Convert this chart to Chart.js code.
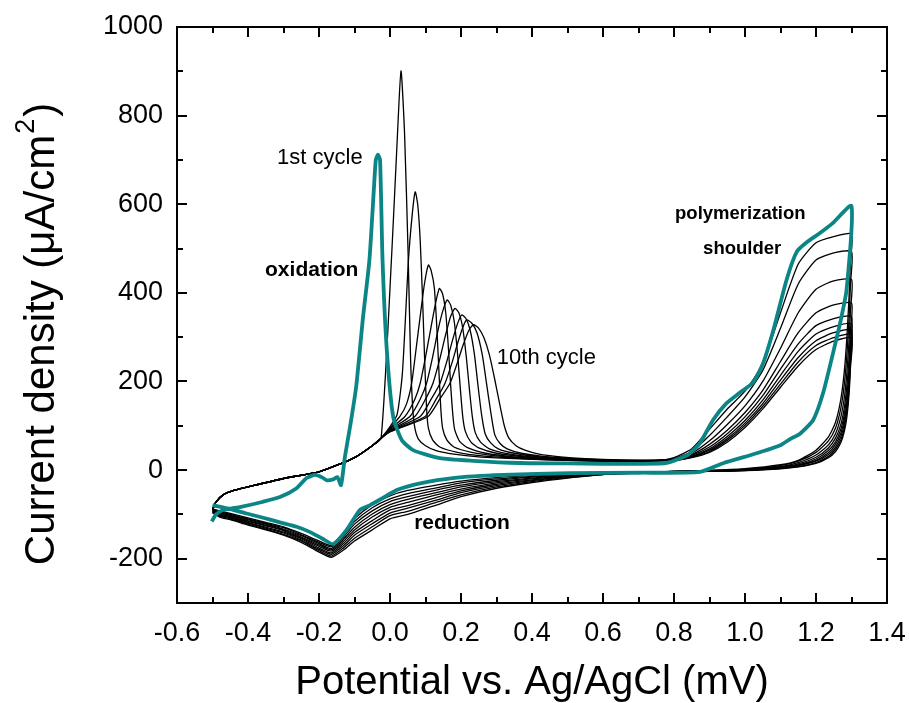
<!DOCTYPE html>
<html>
<head>
<meta charset="utf-8">
<title>Cyclic voltammetry, 10 cycles</title>
<script src="https://cdn.jsdelivr.net/npm/chart.js@4.4.1/dist/chart.umd.min.js"></script>
<style>
  html, body { margin: 0; padding: 0; background: #fff; }
  #wrap { width: 909px; height: 703px; }
</style>
</head>
<body>
<div id="wrap"><canvas id="cv" width="909" height="703"></canvas></div>
<script>
const FONT = "'Liberation Sans', Arial, Helvetica, sans-serif";
const TEAL = '#0b8585';

/* axis ticks */
const xTicks = [-0.6, -0.4, -0.2, 0.0, 0.2, 0.4, 0.6, 0.8, 1.0, 1.2, 1.4];
const yTicks = [-200, 0, 200, 400, 600, 800, 1000];

/* 1st cycle (teal) : anodic sweep then cathodic sweep */
const c1FwdE = [-0.502, -0.49, -0.47, -0.42, -0.36, -0.31, -0.263, -0.235, -0.211, -0.19, -0.178, -0.16, -0.148, -0.138,
  -0.127, -0.11, -0.095, -0.076, -0.058, -0.045, -0.04, -0.034, -0.028, -0.021, -0.009, 0.009, 0.033, 0.065, 0.14, 0.234,
  0.366, 0.5, 0.6, 0.7, 0.78, 0.84, 0.873, 0.91, 0.948, 0.986, 1.023, 1.051, 1.08, 1.117, 1.146, 1.177, 1.211, 1.248, 1.3];
const c1FwdI = [-116, -100, -90, -83, -72, -61, -41, -18, -11, -17, -23, -21, -16, -34,
  30, 110, 190, 345, 474, 640, 700, 712, 700, 474, 271, 120, 68, 45, 27, 21,
  16, 15, 14, 14, 16, 35, 61, 113, 151, 175, 198, 241, 316, 429, 493, 516, 535, 558, 596];
const c1RevE = [1.286, 1.268, 1.248, 1.22, 1.192, 1.155, 1.127, 1.1, 1.033, 0.94, 0.873, 0.7, 0.507, 0.318, 0.177,
  0.085, 0.019, -0.02, -0.056, -0.085, -0.122, -0.16, -0.19, -0.225, -0.263, -0.31, -0.36, -0.404, -0.45, -0.5];
const c1RevI = [406, 332, 264, 174, 113, 82, 70, 56, 38, 16, -4, -6, -7, -11, -18,
  -30, -45, -63, -79, -90, -135, -167, -155, -140, -128, -118, -107, -98, -88, -79];

/* cycles 2-10 (black) : shared potential grids */
const startE = [-0.5, -0.49, -0.47, -0.44, -0.4, -0.3, -0.2, -0.14, -0.1, -0.05, -0.025];
const startI = [-90, -72, -56, -46, -38, -19, -4, 14, 28, 55, 72];
const rightE = [0.8, 0.85, 0.9, 0.95, 1.0, 1.05, 1.1, 1.15, 1.2, 1.25, 1.3];
const revE = [1.297, 1.293, 1.287, 1.28, 1.27, 1.255, 1.235, 1.2, 1.15, 1.1, 1.0, 0.9, 0.8,
  0.7, 0.6, 0.5, 0.4, 0.3, 0.2, 0.13, 0.05, 0.0, -0.05, -0.1, -0.13, -0.165, -0.2, -0.25, -0.3, -0.35, -0.4, -0.45, -0.48, -0.5];

/* oxidation peak region, per cycle */
const c2MidE = [0.005, 0.02, 0.031, 0.041, 0.051, 0.058, 0.064, 0.07, 0.08, 0.1, 0.13, 0.18, 0.25, 0.35, 0.45, 0.55, 0.65, 0.75];
const c2MidI = [490, 740, 901, 760, 490, 250, 140, 95, 70, 55, 44, 36, 30, 26, 23, 21, 20, 21];
const c3MidE = [0.0, 0.02, 0.035, 0.052, 0.063, 0.071, 0.078, 0.085, 0.092, 0.098, 0.103, 0.108, 0.12, 0.14, 0.19, 0.26, 0.35, 0.45, 0.55, 0.65, 0.75];
const c3MidI = [98, 125, 220, 474, 580, 628, 600, 520, 380, 240, 140, 95, 68, 52, 40, 32, 27, 23, 21, 20, 21];
const c4MidE = [0.0, 0.028, 0.047, 0.061, 0.073, 0.085, 0.097, 0.108, 0.116, 0.125, 0.132, 0.138, 0.143, 0.148, 0.16, 0.18, 0.23, 0.3, 0.4, 0.5, 0.6, 0.7];
const c4MidI = [95, 121, 150, 196, 270, 347, 420, 463, 450, 410, 320, 220, 140, 95, 68, 52, 40, 32, 26, 23, 21, 21];
const c5MidE = [0.0, 0.042, 0.07, 0.085, 0.1, 0.115, 0.128, 0.139, 0.148, 0.157, 0.165, 0.171, 0.177, 0.182, 0.196, 0.22, 0.27, 0.35, 0.45, 0.6, 0.7];
const c5MidI = [93, 121, 160, 196, 255, 320, 375, 410, 398, 355, 270, 190, 125, 92, 65, 50, 38, 30, 25, 21, 21];
const c6MidE = [0.0, 0.056, 0.085, 0.103, 0.12, 0.135, 0.149, 0.161, 0.171, 0.181, 0.19, 0.198, 0.205, 0.212, 0.228, 0.25, 0.3, 0.38, 0.5, 0.6, 0.7];
const c6MidI = [91, 121, 160, 196, 255, 315, 360, 384, 372, 335, 265, 185, 120, 88, 63, 50, 38, 30, 24, 22, 21];
const c7MidE = [0.0, 0.07, 0.1, 0.121, 0.14, 0.155, 0.17, 0.183, 0.194, 0.205, 0.215, 0.224, 0.232, 0.24, 0.255, 0.28, 0.33, 0.4, 0.5, 0.6, 0.7];
const c7MidI = [89, 121, 160, 196, 250, 300, 345, 365, 355, 320, 255, 180, 120, 85, 63, 48, 37, 30, 25, 22, 21];
const c8MidE = [0.0, 0.085, 0.116, 0.141, 0.16, 0.175, 0.19, 0.202, 0.214, 0.226, 0.238, 0.248, 0.258, 0.268, 0.283, 0.305, 0.35, 0.42, 0.5, 0.6, 0.7];
const c8MidI = [88, 121, 160, 196, 245, 290, 330, 350, 342, 315, 260, 190, 125, 82, 62, 48, 38, 30, 26, 23, 21];
const c9MidE = [0.0, 0.099, 0.13, 0.155, 0.175, 0.19, 0.205, 0.216, 0.23, 0.245, 0.26, 0.272, 0.284, 0.295, 0.31, 0.33, 0.37, 0.43, 0.5, 0.6, 0.7];
const c9MidI = [87, 121, 160, 196, 243, 285, 322, 339, 332, 310, 260, 195, 130, 80, 60, 48, 38, 31, 27, 23, 22];
const c10MidE = [0.0, 0.107, 0.14, 0.169, 0.19, 0.205, 0.222, 0.235, 0.25, 0.265, 0.28, 0.295, 0.31, 0.322, 0.335, 0.355, 0.38, 0.42, 0.48, 0.55, 0.65, 0.75];
const c10MidI = [86, 121, 160, 196, 243, 280, 315, 328, 320, 298, 260, 205, 145, 100, 72, 55, 45, 36, 30, 26, 23, 22];

/* polymerization region (on rightE), per cycle */
const c2RightI = [28, 48, 92, 138, 178, 240, 355, 465, 513, 527, 533];
const c3RightI = [26, 42, 78, 120, 165, 225, 320, 420, 474, 490, 493];
const c4RightI = [25, 38, 66, 103, 145, 200, 275, 355, 408, 427, 430];
const c5RightI = [24, 35, 58, 90, 130, 180, 245, 310, 355, 373, 377];
const c6RightI = [23, 33, 52, 82, 120, 168, 228, 285, 326, 342, 346];
const c7RightI = [23, 31, 48, 76, 112, 158, 214, 268, 307, 324, 330];
const c8RightI = [22, 30, 45, 71, 106, 150, 203, 254, 292, 310, 316];
const c9RightI = [22, 29, 42, 67, 101, 144, 194, 244, 281, 299, 306];
const c10RightI = [22, 28, 40, 63, 96, 138, 187, 235, 272, 291, 298];

/* cathodic sweep (on revE), per cycle */
const c2RevI = [470, 390, 300, 225, 160, 108, 75, 45, 22, 12, 3, -1, -3,
  -5, -6, -8, -12, -17, -25, -34, -46, -58, -78, -110, -140, -170, -160, -143, -128, -118, -108, -98, -92, -88];
const c3RevI = [420, 340, 260, 195, 140, 95, 66, 40, 20, 10, 2, -1, -3,
  -5, -7, -9, -14, -20, -29, -40, -53, -65, -85, -116, -145, -173, -163, -146, -130, -120, -110, -100, -94, -89];
const c4RevI = [360, 290, 220, 165, 120, 82, 57, 34, 17, 8, 1, -2, -3,
  -6, -7, -11, -16, -23, -34, -45, -60, -71, -92, -122, -150, -177, -166, -148, -133, -122, -112, -102, -96, -90];
const c5RevI = [315, 250, 190, 142, 103, 72, 50, 29, 14, 7, 1, -2, -3,
  -6, -8, -12, -18, -26, -38, -51, -66, -78, -99, -129, -155, -180, -169, -151, -135, -124, -114, -103, -97, -91];
const c6RevI = [285, 225, 170, 127, 92, 64, 44, 25, 12, 6, 0, -2, -3,
  -6, -8, -13, -20, -29, -43, -56, -73, -84, -106, -135, -160, -183, -172, -153, -137, -126, -116, -105, -99, -92];
const c7RevI = [268, 210, 155, 115, 83, 58, 39, 22, 11, 5, 0, -2, -4,
  -6, -9, -14, -22, -32, -47, -62, -80, -90, -114, -141, -165, -187, -176, -155, -140, -129, -118, -107, -101, -93];
const c8RevI = [255, 197, 143, 105, 75, 52, 35, 20, 10, 4, 0, -3, -4,
  -7, -9, -15, -24, -35, -51, -68, -86, -97, -121, -147, -170, -190, -179, -158, -142, -131, -120, -108, -102, -94];
const c9RevI = [243, 183, 131, 96, 68, 47, 31, 17, 8, 4, -1, -3, -4,
  -7, -10, -17, -26, -38, -56, -73, -93, -103, -128, -154, -175, -194, -182, -160, -145, -133, -122, -110, -104, -95];
const c10RevI = [230, 170, 120, 88, 62, 42, 28, 15, 7, 3, -1, -3, -4,
  -7, -10, -18, -28, -41, -60, -79, -100, -110, -135, -160, -180, -197, -185, -163, -147, -135, -124, -112, -106, -96];

/* text labels, placed in data coordinates (left edge, vertical middle) */
const notes = [
  { text: '1st cycle', E: -0.318, I: 705, bold: false, size: 22 },
  { text: 'oxidation', E: -0.352, I: 452, bold: true, size: 21 },
  { text: '10th cycle', E: 0.301, I: 254, bold: false, size: 22 },
  { text: 'polymerization', E: 0.803, I: 578, bold: true, size: 18.5 },
  { text: 'shoulder', E: 0.882, I: 499, bold: true, size: 18.5 },
  { text: 'reduction', E: 0.068, I: -120, bold: true, size: 21 }
];

function pts(E, I) { return E.map((e, i) => ({ x: e, y: I[i] })); }
function blackCycle(midE, midI, rightI, revI) {
  return pts([...startE, ...midE, ...rightE, ...revE], [...startI, ...midI, ...rightI, ...revI]);
}

const cycles = [
  blackCycle(c2MidE, c2MidI, c2RightI, c2RevI),
  blackCycle(c3MidE, c3MidI, c3RightI, c3RevI),
  blackCycle(c4MidE, c4MidI, c4RightI, c4RevI),
  blackCycle(c5MidE, c5MidI, c5RightI, c5RevI),
  blackCycle(c6MidE, c6MidI, c6RightI, c6RevI),
  blackCycle(c7MidE, c7MidI, c7RightI, c7RevI),
  blackCycle(c8MidE, c8MidI, c8RightI, c8RevI),
  blackCycle(c9MidE, c9MidI, c9RightI, c9RevI),
  blackCycle(c10MidE, c10MidI, c10RightI, c10RevI)
];

const datasets = [{
  label: 'cycle 1',
  data: pts([...c1FwdE, ...c1RevE], [...c1FwdI, ...c1RevI]),
  borderColor: TEAL, borderWidth: 3.8, tension: 0.2
}];
cycles.forEach((d, i) => datasets.push({
  label: 'cycle ' + (i + 2), data: d, borderColor: '#000', borderWidth: 1.3, tension: 0.2
}));

/* frame with inward major/minor ticks, labels and y title */
const decorations = {
  id: 'decorations',
  afterDatasetsDraw(chart) {
    const { ctx, chartArea: a, scales: { x, y } } = chart;
    ctx.save();
    ctx.strokeStyle = '#000';
    ctx.lineWidth = 2;
    ctx.strokeRect(a.left, a.top, a.right - a.left, a.bottom - a.top);
    ctx.beginPath();
    for (let i = 0; i <= 20; i++) {
      const px = Math.round(x.getPixelForValue(-0.6 + i * 0.1));
      const len = i % 2 === 0 ? 10 : 6;
      ctx.moveTo(px, a.bottom); ctx.lineTo(px, a.bottom - len);
      ctx.moveTo(px, a.top); ctx.lineTo(px, a.top + len);
    }
    for (let v = -300; v <= 1000; v += 100) {
      const py = Math.round(y.getPixelForValue(v));
      const len = v % 200 === 0 ? 10 : 6;
      ctx.moveTo(a.left, py); ctx.lineTo(a.left + len, py);
      ctx.moveTo(a.right, py); ctx.lineTo(a.right - len, py);
    }
    ctx.stroke();

    ctx.fillStyle = '#000';
    ctx.textBaseline = 'middle';
    ctx.textAlign = 'left';
    notes.forEach(n => {
      ctx.font = (n.bold ? 'bold ' : '') + n.size + 'px ' + FONT;
      ctx.fillText(n.text, x.getPixelForValue(n.E), y.getPixelForValue(n.I));
    });

    // y axis title with superscript
    const main = 'Current density (\u03bcA/cm', tail = ')', sup = '2';
    const big = '42px ' + FONT, small = '27px ' + FONT;
    ctx.font = big;
    const w1 = ctx.measureText(main).width, w3 = ctx.measureText(tail).width;
    ctx.font = small;
    const w2 = ctx.measureText(sup).width + 3;
    const total = w1 + w2 + w3;
    ctx.translate(54, 334);
    ctx.rotate(-Math.PI / 2);
    ctx.textBaseline = 'alphabetic';
    let cx = -total / 2;
    ctx.font = big;
    ctx.fillText(main, cx, 0); cx += w1;
    ctx.font = small;
    ctx.fillText(sup, cx + 1, -20); cx += w2;
    ctx.font = big;
    ctx.fillText(tail, cx, 0);
    ctx.restore();
  }
};

new Chart(document.getElementById('cv'), {
  type: 'scatter',
  data: { datasets },
  options: {
    responsive: false,
    animation: false,
    devicePixelRatio: 1,
    layout: { padding: { left: 0, right: 22, top: 27, bottom: 0 } },
    elements: { point: { radius: 0 }, line: { fill: false } },
    datasets: { scatter: { showLine: true, pointRadius: 0 } },
    plugins: { legend: { display: false }, tooltip: { enabled: false } },
    scales: {
      x: {
        type: 'linear', min: -0.6, max: 1.4,
        grid: { display: false, drawTicks: false },
        border: { display: false },
        afterBuildTicks: s => { s.ticks = xTicks.map(v => ({ value: v })); },
        afterFit: s => { s.height = 100; s.paddingLeft = 0; s.paddingRight = 0; },
        ticks: {
          padding: 14, color: '#000', maxRotation: 0,
          font: { family: FONT, size: 27 },
          callback: v => Number(v).toFixed(1)
        },
        title: {
          display: true, text: 'Potential vs. Ag/AgCl (mV)', color: '#000',
          font: { family: FONT, size: 40, lineHeight: 1 }, padding: { top: 0, bottom: 0 }
        }
      },
      y: {
        type: 'linear', min: -300, max: 1000,
        grid: { display: false, drawTicks: false },
        border: { display: false },
        afterBuildTicks: s => { s.ticks = yTicks.map(v => ({ value: v })); },
        afterFit: s => { s.width = 177; s.paddingTop = 0; s.paddingBottom = 0; },
        ticks: {
          padding: 14, color: '#000',
          font: { family: FONT, size: 27 },
          callback: v => String(v)
        }
      }
    }
  },
  plugins: [decorations]
});
</script>
</body>
</html>
